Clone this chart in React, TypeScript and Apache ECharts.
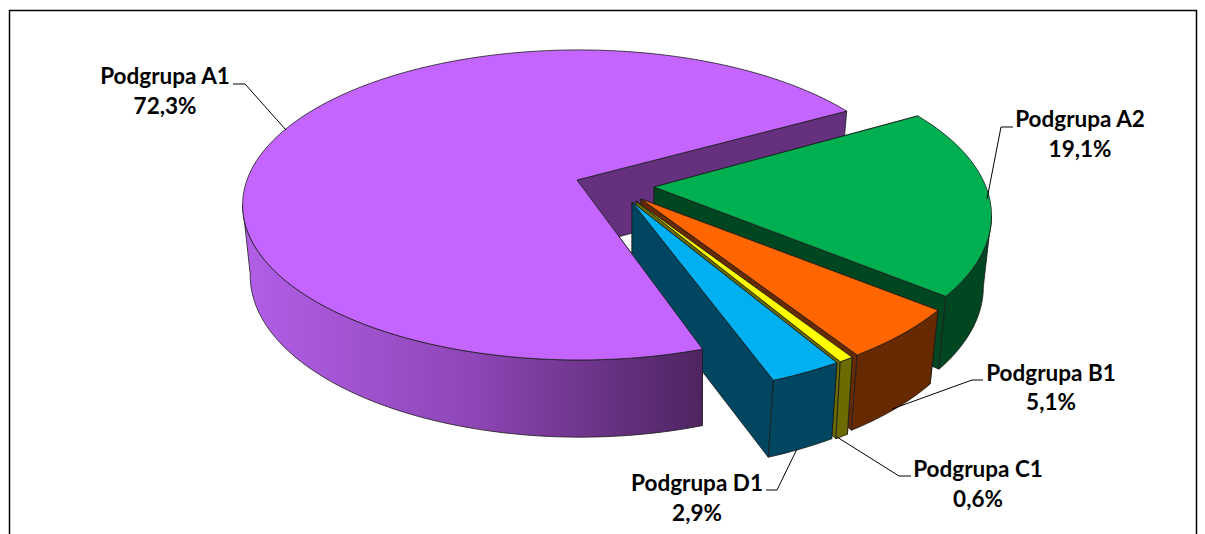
import React, { useEffect, useRef } from "react";
import * as echarts from "echarts";

const categories = ["Podgrupa A1", "Podgrupa A2", "Podgrupa B1", "Podgrupa C1", "Podgrupa D1"];
const shares = [72.3, 19.1, 5.1, 0.6, 2.9];

const topColors = ["#C565FF", "#00B050", "#FF6600", "#FFFF00", "#00B0F0"];
const wallColors = ["#65317F", "#004620", "#662900", "#6B6B00", "#004660"];

// angle (degrees, counter-clockwise from 3 o'clock) at which Podgrupa A2 begins
const firstSliceEndAngle = 30;
// small perspective correction of a slice's two rim angles, degrees
const rimTrims = [
  [-1.9, -0.5],
  [0, 0],
  [0, 0],
  [0, 0],
  [0, 0],
];

type Proj = { x: number; y: number; a: number; b: number; k: number };
// tip of each exploded slice, its projected top rim and bottom rim, and the lower end of the inner edge
const tips = [
  [577, 180],
  [654, 187],
  [641, 199],
  [636, 201],
  [632, 202],
];
const topRims: Proj[] = [
  { x: 579, y: 180, a: 332, b: 151, k: 0.161 },
  { x: 654, y: 187, a: 332, b: 155, k: 0.18 },
  { x: 641, y: 199, a: 338, b: 157.6, k: 0.18 },
  { x: 636, y: 201, a: 338, b: 158, k: 0.18 },
  { x: 632, y: 202, a: 339, b: 158, k: 0.18 },
];
const bottomRims: Proj[] = [
  { x: 580, y: 248, a: 325, b: 157, k: 0.17 },
  { x: 656, y: 257, a: 322, b: 159, k: 0.18 },
  { x: 641, y: 269, a: 329, b: 163, k: 0.18 },
  { x: 637, y: 273, a: 329, b: 163, k: 0.18 },
  { x: 632, y: 248, a: 370, b: 210, k: 0.0625 },
];
const innerLowerEnds = [
  [577, 248],
  [654, 245],
  [641, 247],
  [636, 248],
  [632, 280],
];

type LabelPos = { x: number; y1: number; y2: number; line: number[][] };
const labelPlaces: LabelPos[] = [
  { x: 165, y1: 75, y2: 105, line: [[233, 84], [245, 84], [286, 130]] },
  { x: 1080, y1: 118, y2: 148, line: [[1013, 127], [1001, 127], [987, 199]] },
  { x: 1051, y1: 372, y2: 401, line: [[983, 380], [972, 380], [892, 409]] },
  { x: 978, y1: 468, y2: 498, line: [[911, 476], [899, 476], [837, 437]] },
  { x: 697, y1: 482, y2: 512, line: [[766, 490], [777, 490], [797, 449]] },
];

const rad = (d: number) => (d * Math.PI) / 180;
const project = (p: Proj, deg: number) => {
  const s = Math.sin(rad(deg));
  const w = 1 + p.k * s;
  return [p.x + (p.a * Math.cos(rad(deg))) / w, p.y - (p.b * s) / w];
};
const arc = (p: Proj, from: number, to: number) => {
  const n = Math.max(2, Math.ceil(Math.abs(from - to)));
  const out: number[][] = [];
  for (let i = 0; i <= n; i++) out.push(project(p, from + ((to - from) * i) / n));
  return out;
};

const total = shares.reduce((s, v) => s + v, 0);
const sliceStart = (idx: number) => {
  let angle = firstSliceEndAngle + (shares[0] / total) * 360;
  for (let i = 0; i < idx; i++) angle -= (shares[i] / total) * 360;
  return angle;
};

const edge = { stroke: "#1c1c1c", lineWidth: 0.8 };

function renderSlice(params: any, api: any) {
  const i = params.dataIndex;
  const value = api.value(0) as number;
  let s0 = sliceStart(i);
  if (s0 > 180) s0 -= 360;
  const start = s0 + rimTrims[i][0];
  const end = s0 - (value / total) * 360 + rimTrims[i][1];
  const top = topRims[i];
  const bot = bottomRims[i];
  const low = innerLowerEnds[i];
  const apex = tips[i];

  const wallFill = wallColors[i];
  const outerFill =
    i === 0
      ? new echarts.graphic.LinearGradient(0, 0, 1, 0, [
          { offset: 0, color: "#B25FE8" },
          { offset: 0.5, color: "#8E46B6" },
          { offset: 1, color: "#4E2460" },
        ])
      : wallFill;

  const sil = (Math.asin(top.k) * 180) / Math.PI;
  const hi = Math.min(start, -sil);
  const lo = Math.max(end, -180 + sil);

  // the big slice's inner walls go behind everything; its rim wall and top face sit in front of the others
  const front = i === 0 ? 100 : 10 * i;
  const back = i === 0 ? 0 : 10 * i;

  const children: any[] = [];
  const poly = (points: number[][], fill: any, z2: number) =>
    children.push({ type: "polygon", z2, shape: { points }, style: { fill, ...edge } });

  poly([apex, project(top, start), project(bot, start), low], wallFill, back);
  poly([apex, project(top, end), project(bot, end), low], wallFill, back + 1);
  if (hi > lo) poly([...arc(top, hi, lo), ...arc(bot, lo, hi)], outerFill, front + 2);
  poly([apex, ...arc(top, start, end)], topColors[i], front + 3);

  return { type: "group", children };
}

const fmt = (v: number) => `${v.toFixed(1).replace(".", ",")}%`;
const font = { fontFamily: "Lato", fontWeight: "bold", fontSize: 22.5, fill: "#000", textAlign: "center", textVerticalAlign: "middle" };

export default function App() {
  const ref = useRef<HTMLDivElement>(null);
  useEffect(() => {
    const chart = echarts.init(ref.current!, undefined, { renderer: "svg" });
    const graphics: any[] = [
      {
        type: "rect",
        shape: { x: 9.5, y: 10.5, width: 1187, height: 560 },
        style: { fill: "none", stroke: "#000", lineWidth: 1.5 },
        z: -1,
      },
    ];
    categories.forEach((c, i) => {
      const p = labelPlaces[i];
      graphics.push({ type: "text", x: p.x, y: p.y1, style: { text: c, ...font }, z: 5 });
      graphics.push({ type: "text", x: p.x, y: p.y2, style: { text: fmt(shares[i]), ...font }, z: 5 });
      graphics.push({
        type: "polyline",
        shape: { points: p.line },
        style: { fill: "none", stroke: "#000", lineWidth: 1 },
        z: 5,
      });
    });
    chart.setOption({
      animation: false,
      backgroundColor: "#fff",
      graphic: graphics,
      series: [
        {
          type: "custom",
          coordinateSystem: "none",
          renderItem: renderSlice,
          data: shares.map((v, i) => ({ name: categories[i], value: [v] })),
          encode: { value: 0 },
          silent: true,
        },
      ],
    });
    return () => chart.dispose();
  }, []);
  return <div ref={ref} style={{ position: "fixed", left: 0, top: 0, width: 1205, height: 534 }} />;
}
